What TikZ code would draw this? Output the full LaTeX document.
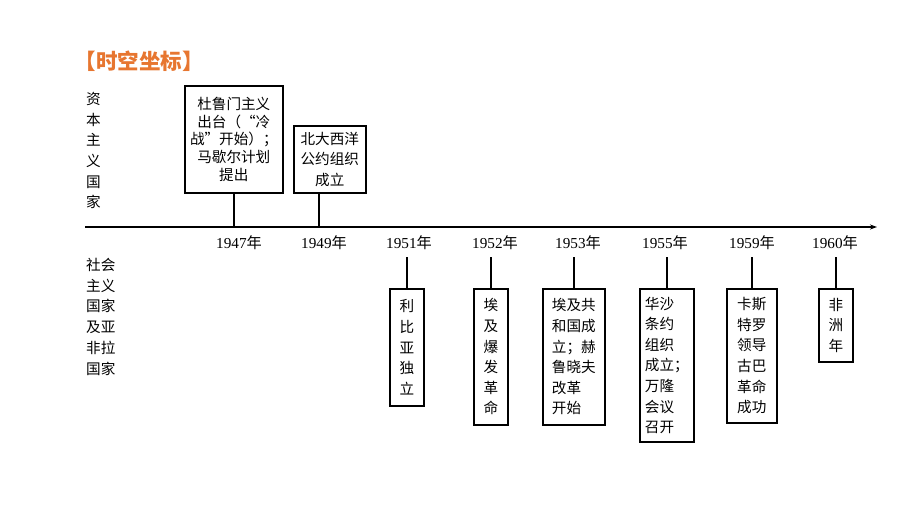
\documentclass[tikz,border=0pt]{standalone}
\usepackage{fontspec}
\setmainfont{Liberation Serif}
\newfontfamily\cjk{Noto Sans CJK SC}
\usetikzlibrary{calc,arrows.meta}
\definecolor{titleorange}{RGB}{231,118,48}
\newcommand\nianchar{{\cjk 年}}
\begin{document}
\begin{tikzpicture}[x=1pt,y=-1pt,
  evbox/.style={draw,line width=1.6pt,inner sep=2pt,anchor=north west,
    font=\cjk\fontsize{14.6}{20.6}\selectfont,align=center},
  leftbox/.style={evbox,align=left},
  yearlbl/.style={inner sep=0pt,font=\fontsize{15.2}{16}\selectfont},
  sidelbl/.style={inner sep=0pt,anchor=north west,align=left,
    font=\cjk\fontsize{14.6}{20.7}\selectfont},
  conn/.style={line width=1.6pt}]
\fill[white] (0,0) rectangle (920,518);
\useasboundingbox (0,0) rectangle (920,518);

% title
\node[inner sep=0pt,text=titleorange,font=\cjk\bfseries\fontsize{21.5}{24}\selectfont] (title) at (139,61) {【时空坐标】};

% side labels
\node[sidelbl] (capital) at (86,92) {资\\本\\主\\义\\国\\家};
\node[sidelbl] (social) at (86,258) {社会\\主义\\国家\\及亚\\非拉\\国家};

% axis
\coordinate (axL) at (85,227);
\coordinate (axR) at (877,227);
\draw[line width=1.5pt,-{Stealth[length=7pt,width=5pt]}] (axL) -- (axR);

% year labels
\node[yearlbl] (y1947) at (239,243) {1947\nianchar};
\node[yearlbl] (y1949) at (324,243) {1949\nianchar};
\node[yearlbl] (y1951) at (409,243) {1951\nianchar};
\node[yearlbl] (y1952) at (495,243) {1952\nianchar};
\node[yearlbl] (y1953) at (578,243) {1953\nianchar};
\node[yearlbl] (y1955) at (665,243) {1955\nianchar};
\node[yearlbl] (y1959) at (752,243) {1959\nianchar};
\node[yearlbl] (y1960) at (835,243) {1960\nianchar};

% upper boxes
\node[evbox,minimum width=98pt,minimum height=107pt,
  font=\cjk\fontsize{14.6}{17.6}\selectfont] (b1947) at (184,85)
  {杜鲁门主义\\出台（“冷\\战”开始）；\\马歇尔计划\\提出};
\node[evbox,minimum width=72pt,minimum height=67pt] (b1949) at (293,125)
  {北大西洋\\公约组织\\成立};
\draw[conn] (b1947.south) -- (b1947.south |- axL);
\coordinate (c1949) at ($(b1949.south west)+(26,0)$);
\draw[conn] (c1949) -- (c1949 |- axL);

% lower boxes
\node[evbox,minimum width=34pt,minimum height=117pt] (b1951) at (389,288)
  {利\\比\\亚\\独\\立};
\node[evbox,minimum width=34pt,minimum height=136pt] (b1952) at (473,288)
  {埃\\及\\爆\\发\\革\\命};
\node[leftbox,minimum width=62pt,minimum height=136pt] (b1953) at (542,288)
  {埃及共\\和国成\\立；赫\\鲁晓夫\\改革\\开始};
\node[leftbox,minimum width=54pt,minimum height=153pt] (b1955) at (639,288)
  {华沙\\条约\\组织\\成立；\\万隆\\会议\\召开};
\node[evbox,minimum width=50pt,minimum height=134pt] (b1959) at (726,288)
  {卡斯\\特罗\\领导\\古巴\\革命\\成功};
\node[evbox,minimum width=34pt,minimum height=73pt] (b1960) at (818,288)
  {非\\洲\\年};

\foreach \b in {b1951,b1952,b1953,b1955,b1959,b1960}
  \draw[conn] (\b.north) -- ++(0,-31);
\end{tikzpicture}
\end{document}
